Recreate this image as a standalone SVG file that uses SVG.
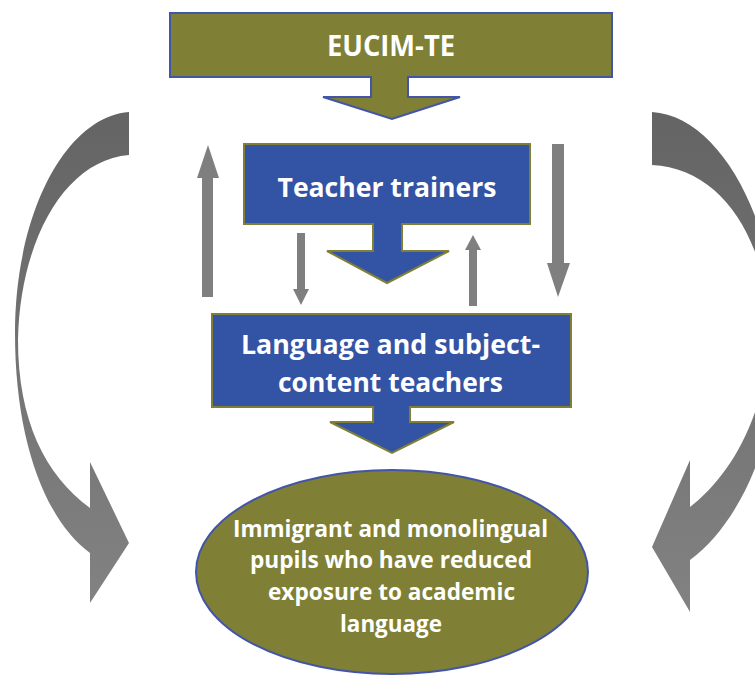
<svg xmlns="http://www.w3.org/2000/svg" width="755" height="677" viewBox="0 0 755 677">
<style>
.olive{fill:#7F7F35;stroke:#4355A8;stroke-width:2}
.blue{fill:#3353A4;stroke:#7F7F35;stroke-width:2}
.gray{fill:#7F7F7F}
text{font-family:"Open Sans","Liberation Sans",sans-serif;font-weight:bold;fill:#FFFFFF;text-anchor:middle}
</style>
<defs>
<linearGradient id="curveGrad" x1="0" y1="0" x2="0" y2="1">
<stop offset="0" stop-color="#646464"/>
<stop offset="1" stop-color="#828282"/>
</linearGradient>
</defs>
<g id="connectors">
<path id="curve-left" fill="url(#curveGrad)" d="M129,112 C65,117 15,215 15,333 C15,440 45,520 90,553 L90,603 L129,543 L90,462 L90,508 C45,475 18,420 18,340 C20,240 65,160 129,155 Z"/>
<path id="curve-right" fill="url(#curveGrad)" d="M652,112 C718,116 774,215 778,335 C780,440 738,525 690,560 L690,612 L652,547 L690,460 L690,507 C728,478 765,420 770,335 C768,240 722,168 652,165 Z"/>
<path id="up-left" class="gray" d="M202,297 L202,178 L197,178 L208,145 L219,178 L213,178 L213,297 Z"/>
<path id="down-small" class="gray" d="M297,233 L305,233 L305,289 L309,289 L301,305 L293,289 L297,289 Z"/>
<path id="up-small" class="gray" d="M469,306 L469,250 L465,250 L473,235 L481,250 L477,250 L477,306 Z"/>
<path id="down-right" class="gray" d="M552,144 L564,144 L564,263 L570,263 L558,297 L547,263 L552,263 Z"/>
</g>
<g id="eucim">
<path class="olive" d="M170,13 L612,13 L612,77 L408,77 L408,97 L460,97 L392,119 L323,97 L371,97 L371,77 L170,77 Z"/>
<text x="391" y="56" font-size="28" textLength="128" lengthAdjust="spacingAndGlyphs">EUCIM-TE</text>
</g>
<g id="trainers">
<path class="blue" d="M244,144 L530,144 L530,224 L402,224 L402,251 L449,251 L387,283 L327,251 L373,251 L373,224 L244,224 Z"/>
<text x="387" y="197" font-size="26" textLength="219" lengthAdjust="spacingAndGlyphs">Teacher trainers</text>
</g>
<g id="teachers">
<path class="blue" d="M212,314 L571,314 L571,407 L410,407 L410,422 L454,422 L392,453 L330,422 L373,422 L373,407 L212,407 Z"/>
<text x="390.5" y="354" font-size="26" textLength="299" lengthAdjust="spacingAndGlyphs">Language and subject-</text>
<text x="390.5" y="392" font-size="26" textLength="225" lengthAdjust="spacingAndGlyphs">content teachers</text>
</g>
<g id="pupils">
<ellipse class="olive" cx="392" cy="572" rx="196" ry="102"/>
<text x="390.5" y="537" font-size="24" textLength="315" lengthAdjust="spacingAndGlyphs">Immigrant and monolingual</text>
<text x="391" y="568" font-size="24" textLength="282" lengthAdjust="spacingAndGlyphs">pupils who have reduced</text>
<text x="391.5" y="600" font-size="24" textLength="247" lengthAdjust="spacingAndGlyphs">exposure to academic</text>
<text x="391" y="632" font-size="24" textLength="102" lengthAdjust="spacingAndGlyphs">language</text>
</g>
</svg>
